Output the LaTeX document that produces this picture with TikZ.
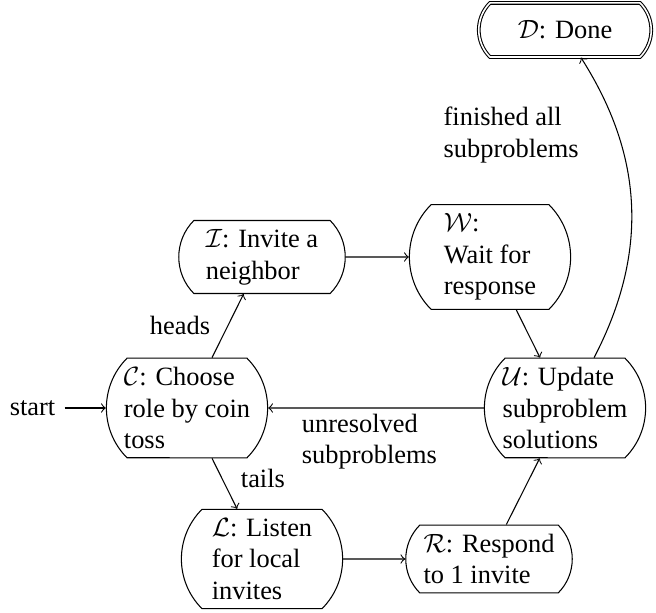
\documentclass[tikz,border=0pt]{standalone}
\usepackage{fontspec}
\setmainfont{Liberation Serif}
\usetikzlibrary{shapes.misc,positioning}

\begin{document}
\begin{tikzpicture}[x=0.6655cm,y=0.6655cm,->,
  phase/.style={draw,rounded rectangle,rounded rectangle arc length=90,
    align=left,minimum width=2.45cm},
  tallphase/.style={phase,minimum width=2.38cm},
  edgetext/.style={align=left,inner sep=2pt}]
\useasboundingbox (0,0) rectangle (13.12,12.24);
% states
\node[tallphase] (C) at (3.74,4.08) {$\mathcal{C}$: Choose\\role by coin\\toss};
\node[phase] (I) at (5.24,7.10) {$\mathcal{I}$: Invite a\\neighbor};
\node[tallphase] (W) at (9.80,7.10) {$\mathcal{W}$:\\Wait for\\response};
\node[tallphase] (U) at (11.30,4.08) {$\mathcal{U}$: Update\\subproblem\\solutions};
\node[tallphase] (L) at (5.24,1.06) {$\mathcal{L}$: Listen\\for local\\invites};
\node[phase] (R) at (9.78,1.06) {$\mathcal{R}$: Respond\\to 1 invite};
\node[phase,double,minimum width=2.53cm,minimum height=0.72cm] (D) at (11.30,11.64) {$\mathcal{D}$: Done};
\node[left=0.55cm of C] (start) {start};
% transitions
\draw (start) -- (C);
\draw (C) -- node[left=4.5pt,edgetext] {heads} (I);
\draw (I) -- (W);
\draw (W) -- (U);
\draw (U) -- node[below,xshift=-2.5pt,edgetext] {unresolved\\subproblems} (C);
\draw (U) to[bend right=30] node[pos=0.72,left=13.5pt,yshift=2pt,edgetext] {finished all\\subproblems} (D);
\draw (C) -- node[right=4pt,yshift=2pt,edgetext] {tails} (L);
\draw (L) -- (R);
\draw (R) -- (U);
\end{tikzpicture}
\end{document}
